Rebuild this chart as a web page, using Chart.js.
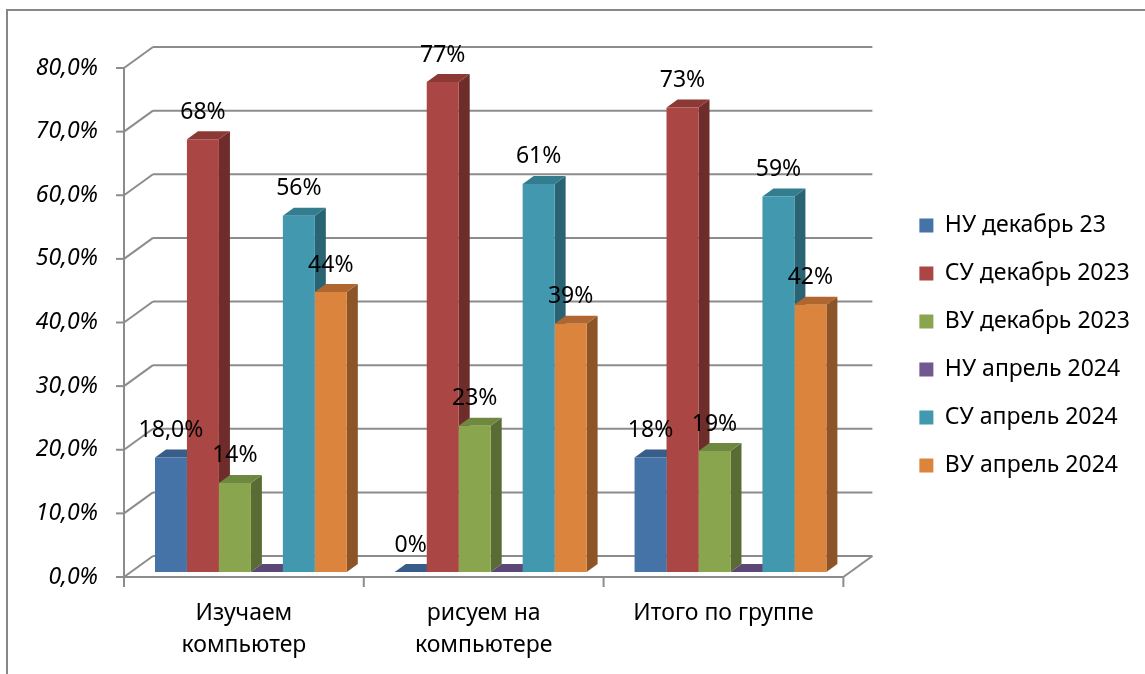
<!DOCTYPE html>
<html>
<head>
<meta charset="utf-8">
<script src="https://cdn.jsdelivr.net/npm/chart.js@4.4.0/dist/chart.umd.min.js"></script>
<style>
  html, body { margin: 0; padding: 0; background: #fff; }
  #wrap { position: relative; width: 1145px; height: 674px; }
</style>
</head>
<body>
<div id="wrap"><canvas id="chart"></canvas></div>
<script>
// Data
const categories = [['Изучаем', 'компьютер'], ['рисуем на', 'компьютере'], 'Итого по группе'];
const seriesNames = ['НУ декабрь 23', 'СУ декабрь 2023', 'ВУ декабрь 2023', 'НУ апрель 2024', 'СУ апрель 2024', 'ВУ апрель 2024'];
const nuDec = [0.18, 0, 0.18];
const suDec = [0.68, 0.77, 0.73];
const vuDec = [0.14, 0.23, 0.19];
const nuApr = [0, 0, 0];
const suApr = [0.56, 0.61, 0.59];
const vuApr = [0.44, 0.39, 0.42];
const valueLabels = [
    ['18,0%', '0%', '18%'],
    ['68%', '77%', '73%'],
    ['14%', '23%', '19%'],
    [null, null, null],
    ['56%', '61%', '59%'],
    ['44%', '39%', '42%']
];
const yTickLabels = ['0,0%', '10,0%', '20,0%', '30,0%', '40,0%', '50,0%', '60,0%', '70,0%', '80,0%'];

const frontColors = ['#4572A7', '#AA4643', '#89A54E', '#71588F', '#4198AF', '#DB843D'];
const sideColors = ['#2f4f76', '#6e2c2b', '#5a6c33', '#4a3a5e', '#2a6474', '#8d5427'];
const topColors = ['#385d89', '#8c3936', '#6f8840', '#5c4876', '#337d8f', '#b0662f'];

const FONT = '"Noto Sans", "Open Sans", sans-serif';
const GRID = '#8c8c8c';

// plane offsets (bars sit a little behind the front edge of the floor)
const FX = -7, FY = 5;    // front plane relative to bar plane
const BX = 22, BY = -16;  // back wall relative to bar plane
const DX = 11, DY = -8;   // bar depth

function line(ctx, x1, y1, x2, y2) {
    ctx.beginPath();
    ctx.moveTo(x1, y1);
    ctx.lineTo(x2, y2);
    ctx.stroke();
}

const frame = {
    id: 'frame',
    beforeDraw(chart) {
        const ctx = chart.ctx;
        ctx.save();
        ctx.strokeStyle = '#878787';
        ctx.lineWidth = 2;
        ctx.beginPath();
        ctx.moveTo(7, chart.height);
        ctx.lineTo(7, 10);
        ctx.lineTo(chart.width, 10);
        ctx.stroke();
        ctx.restore();
    }
};

const box3d = {
    id: 'box3d',
    beforeDatasetsDraw(chart) {
        const ctx = chart.ctx;
        const ys = chart.scales.y;
        const xs = chart.scales.x;
        const left = chart.chartArea.left;
        const right = chart.chartArea.right;
        ctx.save();
        ctx.strokeStyle = GRID;
        ctx.lineWidth = 2;

        // walls
        ys.ticks.forEach(t => {
            const py = ys.getPixelForValue(t.value);
            line(ctx, left + FX - 8, py + FY, left + FX, py + FY);
            line(ctx, left + FX, py + FY, left + BX, py + BY);
            line(ctx, left + BX, py + BY, right + BX, py + BY);
        });
        const y0 = ys.getPixelForValue(0);
        const yTop = ys.getPixelForValue(ys.max);
        line(ctx, left + FX, yTop + FY, left + FX, y0 + FY);
        line(ctx, left + FX, y0 + FY, right + FX, y0 + FY);
        line(ctx, right + FX, y0 + FY, right + BX, y0 + BY);
        for (let i = 0; i <= categories.length; i++) {
            const px = xs.getPixelForValue(i - 0.5) + FX;
            line(ctx, px, y0 + FY, px, y0 + FY + 10);
        }

        // side and top faces, left to right
        const items = [];
        chart.data.datasets.forEach((ds, i) => {
            chart.getDatasetMeta(i).data.forEach(bar => items.push({ bar, i }));
        });
        items.sort((a, b) => a.bar.x - b.bar.x);
        items.forEach(({ bar, i }) => {
            const l = bar.x - bar.width / 2;
            const r = bar.x + bar.width / 2;
            const t = bar.y;
            const b = bar.base;
            ctx.fillStyle = sideColors[i];
            ctx.beginPath();
            ctx.moveTo(r, t);
            ctx.lineTo(r + DX, t + DY);
            ctx.lineTo(r + DX, b + DY);
            ctx.lineTo(r, b);
            ctx.closePath();
            ctx.fill();
            ctx.fillStyle = topColors[i];
            ctx.beginPath();
            ctx.moveTo(l, t);
            ctx.lineTo(l + DX, t + DY);
            ctx.lineTo(r + DX, t + DY);
            ctx.lineTo(r, t);
            ctx.closePath();
            ctx.fill();
        });
        ctx.restore();
    },
    afterDatasetsDraw(chart) {
        const ctx = chart.ctx;
        ctx.save();
        ctx.font = '23px ' + FONT;
        ctx.fillStyle = '#000';
        ctx.textAlign = 'center';
        ctx.textBaseline = 'middle';
        chart.data.datasets.forEach((ds, i) => {
            chart.getDatasetMeta(i).data.forEach((bar, j) => {
                const s = valueLabels[i][j];
                if (s) ctx.fillText(s, bar.x, bar.y - 27);
            });
        });
        ctx.restore();
    }
};

const seriesData = [nuDec, suDec, vuDec, nuApr, suApr, vuApr];

new Chart(document.getElementById('chart'), {
    type: 'bar',
    data: {
        labels: categories,
        datasets: seriesData.map((d, i) => ({
            label: seriesNames[i],
            data: d,
            backgroundColor: frontColors[i],
            borderWidth: 0,
            categoryPercentage: 0.8,
            barPercentage: 1.0
        }))
    },
    options: {
        responsive: true,
        maintainAspectRatio: false,
        animation: false,
        layout: { padding: { top: 17, right: 5, bottom: 0, left: 0 } },
        plugins: {
            legend: {
                position: 'right',
                maxWidth: 320,
                labels: {
                    boxWidth: 14,
                    boxHeight: 14,
                    padding: 25,
                    color: '#000',
                    font: { family: FONT, size: 23 },
                    sort: (a, b) => a.datasetIndex - b.datasetIndex
                }
            },
            tooltip: { enabled: false }
        },
        scales: {
            x: {
                grid: { display: false, drawTicks: false },
                border: { display: false },
                ticks: {
                    color: '#000',
                    font: { family: FONT, size: 23, lineHeight: 1.4 },
                    padding: 25,
                    labelOffset: -7,
                    maxRotation: 0,
                    autoSkip: false
                },
                afterFit: s => { s.height = 102; }
            },
            x2: {
                type: 'linear',
                position: 'top',
                grid: { display: false, drawTicks: false },
                border: { display: false },
                ticks: { display: false },
                afterFit: s => { s.height = 46; }
            },
            y: {
                min: 0,
                max: 0.8,
                grid: { display: false, drawTicks: false },
                border: { display: false },
                ticks: {
                    stepSize: 0.1,
                    color: '#000',
                    font: { family: FONT, size: 23, style: 'italic' },
                    padding: 33,
                    labelOffset: 5,
                    callback: (v, i) => yTickLabels[i]
                },
                afterFit: s => { s.width = 131; }
            },
            y2: {
                position: 'right',
                grid: { display: false, drawTicks: false },
                border: { display: false },
                ticks: { display: false },
                afterFit: s => { s.width = 44; }
            }
        }
    },
    plugins: [frame, box3d]
});
</script>
</body>
</html>
